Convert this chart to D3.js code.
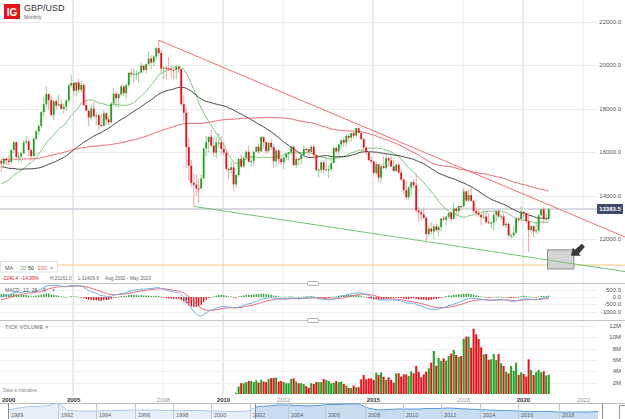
<!DOCTYPE html>
<html>
<head>
<meta charset="utf-8">
<script src="https://cdn.jsdelivr.net/npm/d3@7"></script>
<style>
  body { margin: 0; background: #fff; }
  svg { display: block; font-family: "Liberation Sans", Arial, sans-serif; }
</style>
</head>
<body>
<div id="chart"></div>
<script>
const width = 625, height = 419;

// Monthly GBP/USD (x10000), first visible candle Aug 2002
const firstYear = 2002, firstMonth = 7;

// closes before the visible range, Jan 1994 - Jul 2002 (only used for the averages)
const priorCloses = [
  14900,14820,14830,15130,15100,15440,15430,15430,15800,16330,15630,15640,
  15780,15820,16180,16090,15860,15920,16000,15480,15800,15820,15330,15530,
  15130,15330,15280,15100,15500,15560,15540,15550,15650,16310,16810,17130,
  16020,16330,16420,16230,16380,16640,16400,16120,16130,16720,16880,16530,
  16390,16480,16790,16710,16330,16670,16440,16780,16990,16760,16520,16630,
  16430,15990,16110,16100,16030,15770,16130,16100,16470,16450,15940,16150,
  16190,15790,15920,15610,14980,15180,15000,14520,14760,14560,14240,14940,
  14640,14430,14210,14300,14200,14060,14240,14530,14690,14540,14260,14550,
  14190,14170,14230,14600,14650,15310,15590
];

const closes = [
  15480,15700,15620,15550,16100,
  16460,15780,15800,15960,16450,16500,16100,15820,16620,16960,17210,17850,
  18210,18680,18400,17720,18350,18150,18210,18000,18100,18380,19080,19190,
  18830,19210,18880,19100,18170,17920,17600,18010,17660,17700,17260,17210,
  17790,17510,17380,18240,18700,18490,18670,19030,18720,19090,19660,19590,
  19620,19620,19670,19990,19790,20060,20320,20140,20410,20790,20570,19850,
  19890,19850,19840,19800,19790,19920,19830,18210,17820,16240,15380,14590,
  14500,14330,14320,14790,16170,16460,16700,16300,15980,16450,16450,16150,
  15980,15230,15180,15300,14520,14950,15690,15340,15740,16020,15570,15600,
  16020,16250,16040,16700,16460,16050,16430,16230,15580,16080,15690,15540,
  15760,15920,16000,16250,15400,15690,15680,15870,16150,16130,16020,16250,
  15860,15170,15190,15530,15190,15210,15210,15500,16190,16040,16360,16560,
  16440,16750,16670,16880,16760,17110,16880,16600,16210,16000,15640,15580,
  15050,15440,14830,15350,15280,15720,15620,15340,15130,15420,15060,14740,
  14250,13920,14370,14620,14480,13310,13230,13130,12970,12230,12480,12340,
  12580,12410,12550,12950,12890,13030,13210,12930,13400,13280,13520,13510,
  14190,13770,14020,13760,13290,13200,13120,13000,13030,12770,12740,12750,
  13110,13270,13040,13040,12630,12700,12160,12170,12290,12940,12930,13260,
  13200,12820,12420,12590,12350,12400,13090,13370,12920,12940,13383.5
];

const highs = [
  15640,15760,15730,15880,16140,
  16500,16480,16000,16000,16560,16750,16620,16160,16700,17060,17280,17890,
  18550,19040,18710,18590,18420,18480,18650,18450,18250,18450,19150,19550,
  19260,19280,19360,19290,19200,18460,17900,18210,18340,17860,17800,17770,
  17930,17860,17660,18310,18960,18830,18710,19110,19130,19190,19680,19850,
  19840,19780,19690,20130,19990,20090,20660,20460,20450,20860,21161,20710,
  19980,19950,20390,20000,19870,19990,20000,19840,18620,18050,16620,15640,
  15020,14980,14790,14990,16230,16750,16740,17040,16690,16710,16880,16740,
  16460,16040,15280,15580,15530,15020,15730,15910,15810,16100,16300,15850,
  16060,16280,16400,16750,16720,16480,16480,16620,16370,16160,16160,15780,
  15800,15980,16000,16300,16280,15780,15780,15890,16310,16190,16140,16310,
  16380,15890,15260,15600,15610,15750,15400,15720,16260,16260,16390,16600,
  16670,16820,16820,16910,16990,17110,17190,16890,16650,16300,16060,15790,
  15590,15550,15450,15470,15810,15930,15760,15810,15660,15500,15510,15240,
  14790,14670,14450,14640,14770,15020,13480,13370,13440,13060,12670,12770,
  12670,12700,12610,12960,13050,13050,13220,13270,13660,13460,13550,13550,
  14350,14250,14240,14380,13780,13470,13360,13150,13300,13260,13180,12840,
  13210,13320,13380,13160,13180,12780,12780,12270,12590,13010,13010,13510,
  13280,13200,13190,12650,12640,12810,13130,13390,13480,13180,13400
];

const lows = [
  15080,15270,15380,15390,15470,
  15960,15650,15550,15540,15920,16380,15810,15620,15800,16560,16800,17120,
  17650,18050,17940,17620,17480,17950,18100,17940,17770,17910,18290,19000,
  18610,18560,18720,18750,18130,17890,17200,17500,17580,17230,17020,17190,
  17190,17250,17270,17350,18160,18070,18040,18600,18560,18480,19010,19430,
  19200,19340,19200,19640,19720,19640,19990,19820,19960,20230,20450,19670,
  19360,19360,19750,19450,19350,19370,19640,18140,17420,15260,14700,14390,
  13500,13990,13650,14300,14760,15810,15990,16180,15790,15700,16200,15880,
  15850,15150,14780,15020,14230,14350,14870,15300,15290,15650,15530,15340,
  15350,15970,15910,16020,16180,15910,15970,16110,15270,15330,15420,15420,
  15230,15600,15610,15870,15370,15260,15390,15440,15810,15930,15830,15990,
  15670,15140,14830,15020,15000,15110,14810,15100,15480,15890,15860,16170,
  16250,16250,16480,16470,16640,16690,16870,16580,16050,15870,15590,15480,
  14950,14950,14630,14560,15220,15170,15330,15330,15110,15110,15020,14680,
  14080,13830,13800,14000,14330,13220,12790,12860,12920,11840,12080,12200,
  11980,12340,12110,12380,12830,12640,12930,12770,12920,13030,13030,13300,
  13450,13710,13710,13720,13200,13050,13010,12660,12920,12700,12720,12480,
  12390,12770,12970,12860,12560,12500,12120,12010,12050,12200,12770,12900,
  12950,12720,11410,12240,12080,12250,12250,13060,12680,12850,12850
];

// tick volume in millions, first bar is candle index 94 (Jun 2010)
const volumeStart = 94;
const volumes = [
  0.23,1.3,1.9,1.9,2.1,2.3,2.3,2.1,2.4,2.0,2.5,2.2,2.1,2.65,2.8,2.85,2.9,2.2,2.3,2.1,
  1.9,1.9,2.65,2.75,2.2,1.9,1.9,1.76,1.4,1.1,1.9,1.76,2.1,2.1,2.1,2.65,2.5,2.3,1.9,2.0,
  2.3,2.1,2.2,1.76,1.5,1.1,1.06,1.5,1.2,1.2,2.6,3.35,2.6,2.75,2.75,2.5,3.76,3.35,3.8,3.05,
  2.5,2.94,2.47,2.0,3.65,3.65,3.06,3.47,3.47,3.18,4.0,3.65,4.94,3.94,2.94,3.47,3.94,4.53,
  5.53,7.59,5.0,6.35,5.82,6.29,5.88,6.7,7.12,7.76,6.88,6.53,6.7,9.76,10.12,10.12,8.18,
  11.53,10.53,9.7,8.24,7.0,7.06,6.06,6.12,7.06,6.0,7.06,5.41,4.94,3.94,3.65,4.94,4.12,
  5.53,3.35,3.82,3.53,3.06,6.12,4.24,3.35,3.88,4.24,3.82,4.0,3.29,3.4
];

// axis ticks
const yearTicks = [2005, 2008, 2010, 2012, 2015, 2018, 2020, 2022];
const boldYears = [2005, 2010, 2015, 2020];
const priceTicks = [12000, 14000, 16000, 18000, 20000, 22000];
const macdTicks = [500, 0, -500, -1000];
const volumeTicks = [2, 4, 6, 8, 10, 12];

// moving averages
const maPeriods = [20, 50, 100];
const maColors = ["#6cc06c", "#333333", "#ec5a62"];

// drawings on the chart
const lastPrice = 13383.5;
const redTrend = [[new Date(2007, 10, 16), 21161], [new Date(2023, 9, 1), 11900]];
const greenTrend = [[new Date(2009, 0, 16), 13500], [new Date(2023, 9, 1), 10430]];
const supportLevel = 10800;
const zoneDates = [new Date(2020, 10, 1), new Date(2021, 8, 18)];
const zonePrices = [10620, 11500];

// navigator strip (overview of the long history)
const navLevels = [
  14000,16000,17500,17500,18500,21000,13500,13000,13000,13000,13500,13500,14000,14000,14000,
  14000,13500,13500,13500,13500,13000,13000,12500,12500,13000,17500,18000,19000,19000,18500,
  18000,18500,19500,19500,20000,20200,16000,14000,14500,15000,15000,15000,15500,15500,16000,
  15500,15000,14500,14000,13500,13500,13000,12500,12500,12500,12000,12000,12000,12000,12500
];
const navLabels = ["1989","1992","1994","1996","1998","2000","2002","2004","2006","2008","2010","2012","2014","2016","2018"];
const navLabelAt = [0.2,5.2,9,12.9,16.7,20.5,24.4,28.2,31.9,35.9,39.7,43.5,47.4,51.2,55.3];
const navWindow = [24.7, 59.4];

// ---------- derived series ----------
const greenC = "#22a022", redC = "#e8101a";
const candles = closes.map((c, i) => ({
  date: new Date(firstYear, firstMonth + i, 16),
  open: i ? closes[i - 1] : priorCloses[priorCloses.length - 1],
  high: highs[i], low: lows[i], close: c
}));

const allCloses = priorCloses.concat(closes);
const offset = priorCloses.length;
function sma(period) {
  return closes.map((c, i) => d3.mean(allCloses.slice(offset + i + 1 - period, offset + i + 1)));
}
function ema(values, period) {
  const k = 2 / (period + 1);
  let prev = values[0];
  return values.map(v => (prev = v * k + prev * (1 - k)));
}
const ema12 = ema(allCloses, 12), ema26 = ema(allCloses, 26);
const macdAll = ema12.map((v, i) => v - ema26[i]);
const signalAll = ema(macdAll, 9);
const macd = candles.map((d, i) => ({
  date: d.date, macd: macdAll[offset + i], signal: signalAll[offset + i],
  hist: macdAll[offset + i] - signalAll[offset + i]
}));

// ---------- scales ----------
const x = d3.scaleTime().domain([new Date(2002, 7, 1), new Date(2022, 0, 1)]).range([0, 582.5]);
const y = d3.scaleLinear().domain([12000, 22000]).range([239, 22]);
const yMacd = d3.scaleLinear().domain([-1000, 500]).range([311.6, 289.7]);
const yVol = d3.scaleLinear().domain([0, 12]).range([394, 326]);
const xNav = d3.scaleLinear().domain([0, navLevels.length - 1]).range([8, 598]);
const yNav = d3.scaleLinear().domain([11000, 21000]).range([413, 403]);

const svg = d3.select("#chart").append("svg")
  .attr("width", width).attr("height", height);

const defs = svg.append("defs");
defs.append("clipPath").attr("id", "clipMain").append("rect")
  .attr("x", 0).attr("y", 0).attr("width", width).attr("height", 282.5);
defs.append("clipPath").attr("id", "clipMacd").append("rect")
  .attr("x", 0).attr("y", 283.5).attr("width", 597).attr("height", 36);

// ---------- grid ----------
const grid = svg.append("g");
grid.selectAll(".vg").data(yearTicks).enter().append("line")
  .attr("x1", d => x(new Date(d, 0, 1)) + 0.5).attr("x2", d => x(new Date(d, 0, 1)) + 0.5)
  .attr("y1", 0).attr("y2", 396)
  .attr("stroke", d => boldYears.includes(d) ? "#d6d6d6" : "#ececec");
grid.selectAll(".hg").data(priceTicks).enter().append("line")
  .attr("x1", 0).attr("x2", 597).attr("y1", d => Math.round(y(d)) + 0.5).attr("y2", d => Math.round(y(d)) + 0.5)
  .attr("stroke", "#ececec");
grid.selectAll(".mg").data(macdTicks).enter().append("line")
  .attr("x1", 0).attr("x2", 597).attr("y1", d => Math.round(yMacd(d)) + 0.5).attr("y2", d => Math.round(yMacd(d)) + 0.5)
  .attr("stroke", "#f0f0f0");
grid.selectAll(".volg").data(volumeTicks).enter().append("line")
  .attr("x1", 0).attr("x2", 597).attr("y1", d => Math.round(yVol(d)) + 0.5).attr("y2", d => Math.round(yVol(d)) + 0.5)
  .attr("stroke", "#f0f0f0");

// panel separators
svg.selectAll(".sep").data([283, 320]).enter().append("line")
  .attr("x1", 0).attr("x2", width).attr("y1", d => d + 0.5).attr("y2", d => d + 0.5)
  .attr("stroke", "#c4c4c4");

// ---------- main panel ----------
const main = svg.append("g").attr("clip-path", "url(#clipMain)");

// support level and last price line
main.append("line")
  .attr("x1", 0).attr("x2", width).attr("y1", y(supportLevel)).attr("y2", y(supportLevel))
  .attr("stroke", "#f6c774").attr("stroke-width", 1);
main.append("line")
  .attr("x1", 0).attr("x2", 597).attr("y1", y(lastPrice)).attr("y2", y(lastPrice))
  .attr("stroke", "#d9d9e2").attr("stroke-width", 2);

// zone box
main.append("rect")
  .attr("x", x(zoneDates[0])).attr("y", y(zonePrices[1]))
  .attr("width", x(zoneDates[1]) - x(zoneDates[0]))
  .attr("height", y(zonePrices[0]) - y(zonePrices[1]))
  .attr("fill", "#d4d4d4").attr("stroke", "#8a8a8a").attr("stroke-width", 1);

// trend lines
const trendLine = d3.line().x(d => x(d[0])).y(d => y(d[1]));
main.append("path").datum(redTrend).attr("d", trendLine)
  .attr("fill", "none").attr("stroke", "#f07070").attr("stroke-width", 1);
main.append("path").datum(greenTrend).attr("d", trendLine)
  .attr("fill", "none").attr("stroke", "#74c474").attr("stroke-width", 1);

// moving averages
maPeriods.forEach((p, k) => {
  const vals = sma(p);
  main.append("path").datum(candles.map((d, i) => [d.date, vals[i]]))
    .attr("d", d3.line().x(d => x(d[0])).y(d => y(d[1])).curve(d3.curveMonotoneX))
    .attr("fill", "none").attr("stroke", maColors[k]).attr("stroke-width", 1)
    .attr("stroke-opacity", 0.9);
});

// candles
const cg = main.append("g");
cg.selectAll(".wick").data(candles).enter().append("line")
  .attr("x1", d => x(d.date)).attr("x2", d => x(d.date))
  .attr("y1", d => y(d.high)).attr("y2", d => y(d.low))
  .attr("stroke", d => d.close >= d.open ? "#86cc86" : "#f29494").attr("stroke-width", 0.9);
cg.selectAll(".body").data(candles).enter().append("rect")
  .attr("x", d => x(d.date) - 0.9).attr("width", 1.8)
  .attr("y", d => y(Math.max(d.open, d.close)))
  .attr("height", d => Math.max(1, Math.abs(y(d.open) - y(d.close))))
  .attr("fill", d => d.close >= d.open ? greenC : redC);

// arrow pointing at the zone
const ax = x(zoneDates[1]), ay = y(zonePrices[1]);
svg.append("path")
  .attr("d", `M${ax - 3},${ay + 6} l2,-8 l2,2 l7,-6 l3,3 l-6,7 l2,2 z`)
  .attr("fill", "#3a3a3a");

// price axis labels
svg.selectAll(".pl").data(priceTicks).enter().append("text")
  .attr("x", 621).attr("y", d => y(d) + 2).attr("text-anchor", "end")
  .attr("font-size", 6).attr("fill", "#555").text(d => d.toFixed(1));
svg.append("rect").attr("x", 597).attr("y", y(lastPrice) - 5).attr("width", 26).attr("height", 10)
  .attr("fill", "#3d4c68").attr("rx", 1);
svg.append("text").attr("x", 610).attr("y", y(lastPrice) + 2.2).attr("text-anchor", "middle")
  .attr("font-size", 6).attr("font-weight", "bold").attr("fill", "#fff").text(lastPrice.toFixed(1));

// ---------- MACD panel ----------
const mp = svg.append("g").attr("clip-path", "url(#clipMacd)");
mp.selectAll(".hist").data(macd).enter().append("rect")
  .attr("x", d => x(d.date) - 0.7).attr("width", 1.4)
  .attr("y", d => Math.min(yMacd(0), yMacd(d.hist)))
  .attr("height", d => Math.max(0.6, Math.abs(yMacd(d.hist) - yMacd(0))))
  .attr("fill", d => d.hist >= 0 ? "#2fa52f" : "#e8101a");
mp.append("path").datum(macd)
  .attr("d", d3.line().x(d => x(d.date)).y(d => yMacd(d.signal)).curve(d3.curveMonotoneX))
  .attr("fill", "none").attr("stroke", "#f06a74").attr("stroke-width", 1);
mp.append("path").datum(macd)
  .attr("d", d3.line().x(d => x(d.date)).y(d => yMacd(d.macd)).curve(d3.curveMonotoneX))
  .attr("fill", "none").attr("stroke", "#6aaee8").attr("stroke-width", 1);
svg.selectAll(".ml").data(macdTicks).enter().append("text")
  .attr("x", 621).attr("y", d => yMacd(d) + 2).attr("text-anchor", "end")
  .attr("font-size", 6).attr("fill", "#555").text(d => d.toFixed(1));

// ---------- volume panel ----------
const volData = volumes.map((v, k) => ({ c: candles[volumeStart + k], v }));
svg.append("g").selectAll("rect").data(volData).enter().append("rect")
  .attr("x", d => x(d.c.date) - 1).attr("width", 2)
  .attr("y", d => yVol(d.v)).attr("height", d => yVol(0) - yVol(d.v))
  .attr("fill", d => d.c.close >= d.c.open ? greenC : redC);
svg.selectAll(".vl").data(volumeTicks).enter().append("text")
  .attr("x", 621).attr("y", d => yVol(d) + 2).attr("text-anchor", "end")
  .attr("font-size", 6).attr("fill", "#555").text(d => d + "M");

// ---------- time axis ----------
svg.append("text").attr("x", 2).attr("y", 401.5).attr("font-size", 6)
  .attr("font-weight", "bold").attr("fill", "#333").text("2000");
svg.selectAll(".yl").data(yearTicks).enter().append("text")
  .attr("x", d => x(new Date(d, 0, 1)) + 1).attr("y", 401.5).attr("text-anchor", "middle")
  .attr("font-size", 6)
  .attr("font-weight", d => boldYears.includes(d) ? "bold" : "normal")
  .attr("fill", d => boldYears.includes(d) ? "#333" : "#999").text(d => d);

// ---------- navigator ----------
const nav = svg.append("g");
nav.append("line").attr("x1", 0).attr("x2", width).attr("y1", 403.5).attr("y2", 403.5).attr("stroke", "#bbb");
const navArea = d3.area().x((d, i) => xNav(i)).y0(419).y1(d => yNav(d));
defs.append("clipPath").attr("id", "clipNavL").append("rect")
  .attr("x", 0).attr("y", 403).attr("width", xNav(navWindow[0])).attr("height", 16);
defs.append("clipPath").attr("id", "clipNavR").append("rect")
  .attr("x", xNav(navWindow[0])).attr("y", 403).attr("width", xNav(navWindow[1]) - xNav(navWindow[0])).attr("height", 16);
nav.append("path").datum(navLevels).attr("d", navArea).attr("clip-path", "url(#clipNavL)")
  .attr("fill", "#e6eff9");
nav.append("path").datum(navLevels).attr("d", navArea.lineY1()).attr("clip-path", "url(#clipNavL)")
  .attr("fill", "none").attr("stroke", "#a9cbee").attr("stroke-width", 1);
nav.append("path").datum(navLevels).attr("d", navArea).attr("clip-path", "url(#clipNavR)")
  .attr("fill", "#c8dcf2");
nav.append("path").datum(navLevels).attr("d", navArea.lineY1()).attr("clip-path", "url(#clipNavR)")
  .attr("fill", "none").attr("stroke", "#5b9be0").attr("stroke-width", 1);
nav.selectAll(".nd").data(navLabelAt).enter().append("line")
  .attr("x1", d => Math.round(xNav(d)) - 1.5).attr("x2", d => Math.round(xNav(d)) - 1.5)
  .attr("y1", 404).attr("y2", 419).attr("stroke", "#c9c9c9");
nav.selectAll(".nl").data(navLabels).enter().append("text")
  .attr("x", (d, i) => xNav(navLabelAt[i]) + 1).attr("y", 416.5)
  .attr("font-size", 5.5).attr("fill", "#666").text(d => d);
nav.selectAll(".nf").data(navWindow).enter().append("line")
  .attr("x1", (d, i) => i ? xNav(d) + 0.5 : 8.5).attr("x2", (d, i) => i ? xNav(d) + 0.5 : 8.5)
  .attr("y1", 403.5).attr("y2", 419).attr("stroke", "#8c8c8c");
nav.append("line").attr("x1", xNav(navWindow[0]) + 0.5).attr("x2", xNav(navWindow[0]) + 0.5)
  .attr("y1", 403.5).attr("y2", 419).attr("stroke", "#8c8c8c");
nav.append("rect").attr("x", 619.5).attr("y", 405.5).attr("width", 8).attr("height", 14)
  .attr("fill", "#fff").attr("stroke", "#999");

// panel collapse handles
svg.selectAll(".hd").data([283, 320]).enter().append("rect")
  .attr("x", 307.5).attr("y", d => d - 1.5).attr("width", 11).attr("height", 4).attr("rx", 1)
  .attr("fill", "#fff").attr("stroke", "#999").attr("stroke-width", 0.8);

// ---------- header and legends ----------
svg.append("rect").attr("x", 4).attr("y", 4).attr("width", 16).attr("height", 15).attr("fill", "#e4161b");
svg.append("text").attr("x", 12).attr("y", 15.5).attr("text-anchor", "middle")
  .attr("font-size", 10).attr("font-weight", "bold").attr("fill", "#fff").text("IG");
svg.append("text").attr("x", 24).attr("y", 11).attr("font-size", 9).attr("fill", "#333").text("GBP/USD");
svg.append("text").attr("x", 24).attr("y", 18.5).attr("font-size", 5).attr("fill", "#666").text("Monthly");

const legend = svg.append("g");
legend.append("rect").attr("x", 0.5).attr("y", 261.5).attr("width", 57).attr("height", 10.5)
  .attr("fill", "#fff").attr("stroke", "#e2e2e2");
const maLegend = [["MA", "#555"], ["20", maColors[0]], ["50", maColors[1]], ["100", maColors[2]], ["\u00d7", "#777"]];
const maLegendX = [5, 20, 28, 37.5, 50];
legend.selectAll(".ma").data(maLegend).enter().append("text")
  .attr("x", (d, i) => maLegendX[i]).attr("y", 269.5).attr("font-size", 5.5)
  .attr("fill", d => d[1]).text(d => d[0]);
const statsText = [["-2240.4", "#e8101a"], ["-14.39%", "#e8101a"], ["H 21161.0", "#666"], ["L 11409.9", "#666"], ["Aug 2002 - May 2023", "#666"]];
const statsX = [2, 21, 50, 78, 105];
legend.selectAll(".st").data(statsText).enter().append("text")
  .attr("x", (d, i) => statsX[i]).attr("y", 279.5).attr("font-size", 4.8)
  .attr("fill", d => d[1]).text(d => d[0]);

const macdLegend = ["MACD", "12", "26", "9", "\u00d7"];
const macdLegendX = [5, 23, 32, 43, 52];
legend.selectAll(".mc").data(macdLegend).enter().append("text")
  .attr("x", (d, i) => macdLegendX[i]).attr("y", 291.5).attr("font-size", 5)
  .attr("fill", "#555").text(d => d);
legend.append("text").attr("x", 5).attr("y", 329).attr("font-size", 5.2)
  .attr("fill", "#666").attr("letter-spacing", 0.3).text("TICK VOLUME  \u00d7");
legend.append("text").attr("x", 3).attr("y", 391.5).attr("font-size", 4.5)
  .attr("fill", "#888").text("Data is indicative");
</script>
</body>
</html>
